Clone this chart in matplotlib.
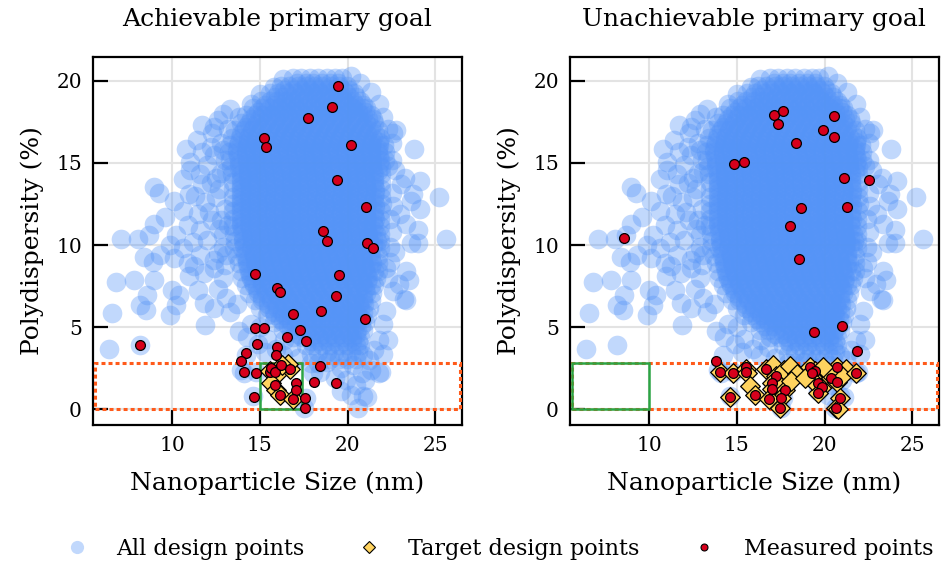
import matplotlib
matplotlib.use("Agg")
import matplotlib.pyplot as plt
from matplotlib.patches import Rectangle
from matplotlib.lines import Line2D

# ========== 全局样式 ==========
plt.rcParams['font.family'] = 'serif'
plt.rcParams['font.serif'] = ['DejaVu Serif']

BLUE = '#5594f7'
GOLD = '#ffd35f'
RED = '#d6001c'
GREEN = '#2ca444'
ORANGE = '#ff5a1a'

XLIM = (5.5, 26.5)
YLIM = (-0.95, 21.45)
# 目标区域 (橙色虚线框)
GOAL_X = (5.6, 26.4)
GOAL_Y = (0.0, 2.85)
# 主要目标 (绿色框)
PRIMARY_A_X = (15.0, 17.4)
PRIMARY_B_X = (5.6, 10.0)

# ========== 数据: 全部设计点 (密集核心, 按行) ==========
CORE_Y = [20.15, 19.7, 19.25, 18.8, 18.35, 17.9, 17.45, 17.0, 16.55, 16.1,
          15.65, 15.2, 14.75, 14.3, 13.85, 13.4, 12.95, 12.5, 12.05, 11.6,
          11.15, 10.7, 10.25, 9.8, 9.35, 8.9, 8.45, 8.0, 7.55, 7.1,
          6.65, 6.2, 5.75, 5.3, 4.85, 4.4, 3.95, 3.5, 3.05]
CORE_X = [
    [16.9, 17.35, 17.85, 18.3, 18.8, 19.3, 19.65],
    [16.2, 16.65, 17.15, 17.6, 18.1, 18.55, 19.05, 19.5, 19.95],
    [15.6, 16.05, 16.55, 17.0, 17.5, 18.0, 18.45, 18.95, 19.4, 19.9, 20.35],
    [15.05, 15.55, 16.0, 16.5, 16.95, 17.45, 17.9, 18.4, 18.85, 19.35, 19.8, 20.3, 20.7],
    [14.6, 15.1, 15.55, 16.05, 16.5, 17.0, 17.45, 17.95, 18.4, 18.9, 19.35, 19.85, 20.3, 20.8, 21.05],
    [14.2, 14.7, 15.15, 15.65, 16.1, 16.6, 17.05, 17.55, 18.0, 18.5, 18.95, 19.45, 19.9, 20.4, 20.85, 21.3],
    [13.9, 14.4, 14.85, 15.35, 15.8, 16.3, 16.75, 17.25, 17.7, 18.2, 18.65, 19.15, 19.6, 20.1, 20.55, 21.05, 21.5],
    [13.6, 14.1, 14.55, 15.05, 15.5, 16.0, 16.45, 16.95, 17.4, 17.9, 18.35, 18.85, 19.3, 19.8, 20.25, 20.75, 21.2, 21.7],
    [13.4, 13.85, 14.35, 14.8, 15.3, 15.75, 16.25, 16.7, 17.2, 17.65, 18.15, 18.6, 19.1, 19.55, 20.05, 20.5, 21.0, 21.45, 21.85],
    [13.3, 13.75, 14.25, 14.7, 15.2, 15.65, 16.15, 16.6, 17.1, 17.55, 18.05, 18.5, 19.0, 19.45, 19.95, 20.4, 20.9, 21.35, 21.8, 22.05],
    [13.25, 13.7, 14.2, 14.65, 15.15, 15.6, 16.1, 16.55, 17.05, 17.5, 18.0, 18.45, 18.95, 19.4, 19.9, 20.35, 20.85, 21.3, 21.75, 22.1],
    [13.3, 13.8, 14.25, 14.75, 15.2, 15.7, 16.15, 16.65, 17.1, 17.6, 18.05, 18.55, 19.0, 19.5, 19.95, 20.45, 20.9, 21.4, 21.85, 22.1],
    [13.35, 13.8, 14.3, 14.75, 15.25, 15.7, 16.2, 16.65, 17.15, 17.6, 18.1, 18.55, 19.05, 19.5, 20.0, 20.45, 20.95, 21.4, 21.9],
    [13.4, 13.9, 14.35, 14.85, 15.3, 15.8, 16.25, 16.75, 17.2, 17.7, 18.15, 18.65, 19.1, 19.6, 20.05, 20.55, 21.0, 21.5, 21.9],
    [13.45, 13.9, 14.4, 14.85, 15.35, 15.8, 16.3, 16.75, 17.25, 17.7, 18.2, 18.65, 19.15, 19.6, 20.1, 20.55, 21.05, 21.5, 21.9],
    [13.5, 13.95, 14.45, 14.9, 15.4, 15.85, 16.35, 16.8, 17.3, 17.75, 18.25, 18.7, 19.2, 19.65, 20.15, 20.6, 21.1, 21.55, 21.9],
    [13.45, 13.9, 14.4, 14.85, 15.35, 15.8, 16.3, 16.75, 17.25, 17.7, 18.2, 18.65, 19.15, 19.6, 20.1, 20.55, 21.05, 21.5, 21.9],
    [13.5, 13.95, 14.45, 14.9, 15.4, 15.85, 16.35, 16.8, 17.3, 17.75, 18.25, 18.7, 19.2, 19.65, 20.15, 20.6, 21.1, 21.55, 21.95],
    [13.45, 13.9, 14.4, 14.85, 15.35, 15.8, 16.3, 16.75, 17.25, 17.7, 18.2, 18.65, 19.15, 19.6, 20.1, 20.55, 21.05, 21.5, 21.9],
    [13.5, 13.95, 14.45, 14.9, 15.4, 15.85, 16.35, 16.8, 17.3, 17.75, 18.25, 18.7, 19.2, 19.65, 20.15, 20.6, 21.1, 21.55, 21.85],
    [13.45, 13.9, 14.4, 14.85, 15.35, 15.8, 16.3, 16.75, 17.25, 17.7, 18.2, 18.65, 19.15, 19.6, 20.1, 20.55, 21.05, 21.5, 21.85],
    [13.55, 14.0, 14.5, 14.95, 15.45, 15.9, 16.4, 16.85, 17.35, 17.8, 18.3, 18.75, 19.25, 19.7, 20.2, 20.65, 21.15, 21.6, 21.85],
    [13.6, 14.05, 14.55, 15.0, 15.5, 15.95, 16.45, 16.9, 17.4, 17.85, 18.35, 18.8, 19.3, 19.75, 20.25, 20.7, 21.2, 21.65, 21.85],
    [13.55, 14.0, 14.5, 14.95, 15.45, 15.9, 16.4, 16.85, 17.35, 17.8, 18.3, 18.75, 19.25, 19.7, 20.2, 20.65, 21.15, 21.6, 21.85],
    [13.7, 14.15, 14.65, 15.1, 15.6, 16.05, 16.55, 17.0, 17.5, 17.95, 18.45, 18.9, 19.4, 19.85, 20.35, 20.8, 21.3, 21.75],
    [13.8, 14.25, 14.75, 15.2, 15.7, 16.15, 16.65, 17.1, 17.6, 18.05, 18.55, 19.0, 19.5, 19.95, 20.45, 20.9, 21.4, 21.7],
    [13.9, 14.4, 14.85, 15.35, 15.8, 16.3, 16.75, 17.25, 17.7, 18.2, 18.65, 19.15, 19.6, 20.1, 20.55, 21.05, 21.5, 21.7],
    [14.0, 14.5, 14.95, 15.45, 15.9, 16.4, 16.85, 17.35, 17.8, 18.3, 18.75, 19.25, 19.7, 20.2, 20.65, 21.15, 21.6],
    [14.2, 14.65, 15.15, 15.6, 16.1, 16.55, 17.05, 17.5, 18.0, 18.45, 18.95, 19.4, 19.9, 20.35, 20.85, 21.3, 21.5],
    [14.4, 14.9, 15.35, 15.85, 16.3, 16.8, 17.25, 17.75, 18.2, 18.7, 19.15, 19.65, 20.1, 20.6, 21.05, 21.4],
    [14.7, 15.15, 15.65, 16.1, 16.6, 17.05, 17.55, 18.0, 18.5, 18.95, 19.45, 19.9, 20.4, 20.85, 21.3],
    [15.0, 15.5, 15.95, 16.45, 16.9, 17.4, 17.85, 18.35, 18.8, 19.3, 19.75, 20.25, 20.7, 21.2],
    [15.4, 15.85, 16.35, 16.8, 17.3, 17.75, 18.25, 18.7, 19.2, 19.65, 20.15, 20.6, 21.1],
    [15.8, 16.3, 16.75, 17.25, 17.7, 18.2, 18.65, 19.15, 19.6, 20.1, 20.55, 21.0],
    [16.3, 16.75, 17.25, 17.7, 18.2, 18.65, 19.15, 19.6, 20.1, 20.55, 20.9],
    [16.9, 17.4, 17.85, 18.35, 18.8, 19.3, 19.75, 20.25, 20.7],
    [17.6, 18.05, 18.55, 19.0, 19.5, 19.95, 20.45, 20.7],
    [18.3, 18.8, 19.25, 19.75, 20.2, 20.6],
    [19.0, 19.5, 19.95, 20.45],
]
# 核心区第二层 (错位行, 让核心更实)
CORE2_Y = [19.9, 19.45, 19.0, 18.55, 18.1, 17.65, 17.2, 16.75, 16.3, 15.85,
           15.4, 14.95, 14.5, 14.05, 13.6, 13.15, 12.7, 12.25, 11.8, 11.35,
           10.9, 10.45, 10.0, 9.55, 9.1, 8.65, 8.2, 7.75, 7.3, 6.85,
           6.4, 5.95, 5.5, 5.05, 4.6, 4.15]
CORE2_X = [
    [17.1, 17.6, 18.05, 18.55, 19.0, 19.45],
    [16.4, 16.9, 17.4, 17.85, 18.3, 18.8, 19.3, 19.75, 20.1],
    [15.85, 16.3, 16.8, 17.25, 17.75, 18.2, 18.7, 19.15, 19.65, 20.1, 20.5],
    [15.3, 15.8, 16.25, 16.75, 17.2, 17.7, 18.15, 18.65, 19.1, 19.6, 20.05, 20.5, 20.85],
    [14.9, 15.35, 15.85, 16.3, 16.8, 17.25, 17.75, 18.2, 18.7, 19.15, 19.65, 20.1, 20.6, 21.0],
    [14.5, 14.95, 15.45, 15.9, 16.4, 16.85, 17.35, 17.8, 18.3, 18.75, 19.25, 19.7, 20.2, 20.65, 21.15, 21.45],
    [14.2, 14.65, 15.15, 15.6, 16.1, 16.55, 17.05, 17.5, 18.0, 18.45, 18.95, 19.4, 19.9, 20.35, 20.85, 21.3],
    [13.95, 14.45, 14.9, 15.4, 15.85, 16.35, 16.8, 17.3, 17.75, 18.25, 18.7, 19.2, 19.65, 20.15, 20.6, 21.1, 21.55],
    [13.8, 14.3, 14.75, 15.25, 15.7, 16.2, 16.65, 17.15, 17.6, 18.1, 18.55, 19.05, 19.5, 20.0, 20.45, 20.95, 21.4, 21.8],
    [13.7, 14.2, 14.65, 15.15, 15.6, 16.1, 16.55, 17.05, 17.5, 18.0, 18.45, 18.95, 19.4, 19.9, 20.35, 20.85, 21.3, 21.75],
    [13.75, 14.2, 14.7, 15.15, 15.65, 16.1, 16.6, 17.05, 17.55, 18.0, 18.5, 18.95, 19.45, 19.9, 20.4, 20.85, 21.35, 21.8],
    [13.8, 14.25, 14.75, 15.2, 15.7, 16.15, 16.65, 17.1, 17.6, 18.05, 18.55, 19.0, 19.5, 19.95, 20.45, 20.9, 21.4, 21.8],
    [13.85, 14.3, 14.8, 15.25, 15.75, 16.2, 16.7, 17.15, 17.65, 18.1, 18.6, 19.05, 19.55, 20.0, 20.5, 20.95, 21.45, 21.75],
    [13.9, 14.35, 14.85, 15.3, 15.8, 16.25, 16.75, 17.2, 17.7, 18.15, 18.65, 19.1, 19.6, 20.05, 20.55, 21.0, 21.5],
    [13.9, 14.4, 14.85, 15.35, 15.8, 16.3, 16.75, 17.25, 17.7, 18.2, 18.65, 19.15, 19.6, 20.1, 20.55, 21.05, 21.5],
    [13.95, 14.4, 14.9, 15.35, 15.85, 16.3, 16.8, 17.25, 17.75, 18.2, 18.7, 19.15, 19.65, 20.1, 20.6, 21.05, 21.55],
    [13.9, 14.4, 14.85, 15.35, 15.8, 16.3, 16.75, 17.25, 17.7, 18.2, 18.65, 19.15, 19.6, 20.1, 20.55, 21.05, 21.5],
    [13.95, 14.4, 14.9, 15.35, 15.85, 16.3, 16.8, 17.25, 17.75, 18.2, 18.7, 19.15, 19.65, 20.1, 20.6, 21.05, 21.55],
    [13.9, 14.4, 14.85, 15.35, 15.8, 16.3, 16.75, 17.25, 17.7, 18.2, 18.65, 19.15, 19.6, 20.1, 20.55, 21.05, 21.5],
    [13.95, 14.4, 14.9, 15.35, 15.85, 16.3, 16.8, 17.25, 17.75, 18.2, 18.7, 19.15, 19.65, 20.1, 20.6, 21.05, 21.45],
    [14.0, 14.45, 14.95, 15.4, 15.9, 16.35, 16.85, 17.3, 17.8, 18.25, 18.75, 19.2, 19.7, 20.15, 20.65, 21.1, 21.45],
    [14.05, 14.5, 15.0, 15.45, 15.95, 16.4, 16.9, 17.35, 17.85, 18.3, 18.8, 19.25, 19.75, 20.2, 20.7, 21.15, 21.45],
    [14.1, 14.55, 15.05, 15.5, 16.0, 16.45, 16.95, 17.4, 17.9, 18.35, 18.85, 19.3, 19.8, 20.25, 20.75, 21.2, 21.45],
    [14.15, 14.6, 15.1, 15.55, 16.05, 16.5, 17.0, 17.45, 17.95, 18.4, 18.9, 19.35, 19.85, 20.3, 20.8, 21.25],
    [14.25, 14.7, 15.2, 15.65, 16.15, 16.6, 17.1, 17.55, 18.05, 18.5, 19.0, 19.45, 19.95, 20.4, 20.9, 21.3],
    [14.35, 14.8, 15.3, 15.75, 16.25, 16.7, 17.2, 17.65, 18.15, 18.6, 19.1, 19.55, 20.05, 20.5, 21.0, 21.3],
    [14.45, 14.95, 15.4, 15.9, 16.35, 16.85, 17.3, 17.8, 18.25, 18.75, 19.2, 19.7, 20.15, 20.65, 21.1],
    [14.6, 15.1, 15.55, 16.05, 16.5, 17.0, 17.45, 17.95, 18.4, 18.9, 19.35, 19.85, 20.3, 20.8, 21.1],
    [14.85, 15.3, 15.8, 16.25, 16.75, 17.2, 17.7, 18.15, 18.65, 19.1, 19.6, 20.05, 20.55, 21.0],
    [15.15, 15.6, 16.1, 16.55, 17.05, 17.5, 18.0, 18.45, 18.95, 19.4, 19.9, 20.35, 20.85],
    [15.45, 15.9, 16.4, 16.85, 17.35, 17.8, 18.3, 18.75, 19.25, 19.7, 20.2, 20.65, 20.95],
    [15.8, 16.25, 16.75, 17.2, 17.7, 18.15, 18.65, 19.1, 19.6, 20.05, 20.55, 20.85],
    [16.15, 16.6, 17.1, 17.55, 18.05, 18.5, 19.0, 19.45, 19.95, 20.4, 20.8],
    [16.6, 17.05, 17.55, 18.0, 18.5, 18.95, 19.45, 19.9, 20.4, 20.75],
    [17.2, 17.65, 18.15, 18.6, 19.1, 19.55, 20.05, 20.5],
    [17.9, 18.35, 18.85, 19.3, 19.8, 20.25, 20.6],
]

# ========== 数据: 全部设计点 (外围稀疏点) ==========
FRINGE_X = [11.72, 10.78, 11.72, 11.0, 10.6, 8.98, 9.26, 10.1, 10.96, 8.98,
            9.6, 7.1, 8.04, 8.7, 10.6, 12.3, 12.6, 12.9, 13.3, 12.0,
            12.4, 11.6, 12.2, 11.3, 11.9, 12.5, 12.8, 11.5, 12.3, 10.9,
            11.6, 12.7, 10.2, 9.9, 10.6, 11.2, 12.0, 12.9, 11.6, 12.4,
            8.4, 9.3, 8.9, 10.1, 10.9, 6.81, 7.85, 6.6, 9.0, 8.6,
            8.15, 8.5, 10.0, 10.2, 9.9, 10.4, 11.9, 11.8, 11.5, 10.96,
            11.25, 11.8, 12.4, 12.9, 12.6, 13.1, 13.3, 13.7, 12.4, 6.43,
            8.15, 14.27, 13.9, 14.6, 13.8, 14.5, 15.0, 14.9, 15.4, 15.9,
            15.3, 14.2, 14.8, 14.1, 16.3, 16.8, 16.4,
            23.8, 22.76, 22.3, 23.24, 24.1, 25.2, 23.7, 24.1, 23.05, 23.6,
            25.6, 23.0, 23.3, 24.0, 23.6, 24.0, 23.3, 23.5, 23.2, 22.2,
            21.8, 22.0, 21.8, 20.9, 20.6, 17.5, 22.9, 23.33, 22.3, 21.9,
            21.5, 21.1, 22.5, 22.7, 22.6, 22.5, 22.7, 22.4, 22.3, 22.6,
            22.0, 22.5, 22.0, 21.8, 21.3, 20.7, 20.2, 16.3, 15.8, 15.0,
            14.5, 13.8,
            18.8, 19.6, 20.3, 20.8, 19.9, 20.5, 19.6, 20.2, 18.4, 17.9,
            21.2, 20.9, 17.9, 17.2, 17.6, 18.0, 19.3, 21.0, 21.3, 18.3,
            12.8, 13.0, 12.7, 13.0, 12.8, 12.9, 12.6, 13.0, 12.2, 12.5,
            11.4, 11.0, 12.1, 11.7, 22.4, 22.5, 22.4, 22.3, 22.2, 22.6,
            13.2, 13.1, 12.9, 13.2, 12.4, 13.1]
FRINGE_Y = [17.3, 15.86, 15.66, 15.05, 14.0, 13.53, 13.2, 12.7, 13.1, 11.3,
            11.7, 10.4, 10.4, 10.6, 12.1, 16.8, 17.6, 18.0, 18.3, 14.9,
            15.5, 14.3, 13.8, 13.0, 12.6, 12.9, 14.4, 11.9, 11.5, 11.2,
            10.9, 11.0, 10.6, 10.0, 9.8, 10.2, 10.3, 9.9, 9.4, 9.1,
            9.3, 9.4, 9.0, 9.2, 8.9, 7.77, 7.85, 5.84, 7.85, 6.95,
            6.35, 6.05, 7.25, 6.35, 5.75, 6.95, 5.13, 6.45, 7.25, 8.1,
            8.7, 8.3, 8.6, 8.0, 7.3, 6.8, 5.9, 6.4, 6.2, 3.7,
            3.9, 4.4, 2.4, 0.8, 4.8, 5.2, 5.0, 4.0, 4.3, 3.7,
            3.5, 3.3, 2.3, 2.2, 3.3, 3.8, 4.2,
            15.86, 16.98, 17.1, 14.1, 13.9, 12.9, 13.1, 12.2, 13.7, 12.7,
            10.4, 11.9, 11.3, 10.9, 10.1, 10.1, 8.4, 7.9, 6.75, 6.0,
            4.2, 3.4, 2.2, 0.8, 0.1, 0.1, 7.66, 6.65, 4.2, 2.3,
            3.6, 0.77, 15.2, 14.6, 12.4, 10.8, 9.6, 9.0, 8.0, 7.2,
            5.2, 16.2, 17.8, 18.6, 19.3, 19.9, 20.3, 20.1, 19.6, 19.2,
            18.6, 17.8,
            2.9, 2.5, 2.7, 2.2, 1.8, 1.5, 1.1, 0.9, 2.3, 2.8,
            3.0, 3.3, 3.4, 3.1, 0.7, 2.2, 1.9, 1.8, 2.4, 2.8,
            16.2, 15.2, 13.4, 12.2, 11.5, 10.6, 9.5, 8.8, 16.0, 14.1,
            16.4, 14.6, 12.0, 13.7, 11.6, 13.2, 9.9, 14.8, 8.6, 16.8,
            17.1, 14.5, 15.8, 11.2, 17.2, 9.4]

# ========== 数据: 可达主要目标 (左图) ==========
TARGET_A_X = [15.55, 15.95, 16.72, 16.62, 16.25, 15.66, 15.93, 16.15, 16.88]
TARGET_A_Y = [2.32, 2.15, 2.47, 2.78, 2.68, 1.62, 1.17, 0.85, 0.63]
MEAS_A_X = [19.43, 19.09, 17.75, 15.21, 15.36, 20.17, 19.38, 21.02, 18.57, 18.81,
            21.08, 21.42, 14.72, 19.53, 15.96, 16.17, 19.36, 16.91, 18.47, 20.98,
            14.75, 15.25, 17.30, 16.55, 17.62, 8.17, 14.85, 15.98, 14.23, 15.94,
            13.90, 18.40, 14.09, 14.79, 15.57, 15.61, 15.88, 16.22, 16.74, 15.84,
            17.07, 18.10, 19.31, 17.08, 16.13, 14.68, 16.88, 17.58, 17.56]
MEAS_A_Y = [19.68, 18.38, 17.73, 16.53, 15.98, 16.10, 13.96, 12.33, 10.87, 10.24,
            10.16, 9.82, 8.22, 8.17, 7.42, 7.14, 6.92, 5.80, 5.98, 5.48,
            4.97, 4.93, 4.81, 4.42, 4.14, 3.94, 3.96, 3.81, 3.45, 3.31,
            2.94, 2.63, 2.25, 2.19, 2.30, 2.54, 2.25, 2.70, 2.46, 1.48,
            1.60, 1.66, 1.60, 1.20, 0.87, 0.77, 0.62, 0.70, 0.11]

# ========== 数据: 不可达主要目标 (右图) ==========
TARGET_B_X = [14.02, 14.77, 15.5, 15.6, 15.75, 16.06, 14.62, 16.66, 17.05, 17.23,
              16.98, 16.98, 17.35, 17.74, 17.51, 16.81, 17.47, 17.7, 18.0, 18.45,
              18.1, 19.15, 19.45, 19.26, 19.64, 19.83, 19.64, 19.3, 20.38, 20.68,
              20.68, 21.2, 20.85, 20.62, 20.75, 21.0, 21.81, 20.2, 19.9, 18.9]
TARGET_B_Y = [2.25, 2.19, 2.45, 2.2, 1.45, 0.87, 0.77, 2.45, 2.7, 2.03,
              1.58, 1.22, 1.55, 1.18, 0.71, 0.63, 0.10, 2.4, 2.65, 2.15,
              1.75, 2.56, 2.33, 2.19, 1.62, 1.38, 1.01, 1.8, 1.89, 1.68,
              2.56, 2.45, 0.71, 0.10, 0.0, 2.05, 2.19, 2.3, 2.6, 1.9]
MEAS_B_X = [17.13, 17.60, 17.36, 20.51, 19.91, 20.51, 18.38, 14.83, 15.38, 21.09,
            22.51, 18.66, 21.25, 18.04, 8.58, 18.53, 19.40, 21.00, 21.85, 13.83,
            14.02, 14.77, 15.53, 15.53, 16.66, 17.23, 16.98, 16.98, 17.74, 17.51,
            16.81, 16.06, 14.62, 17.47, 19.15, 19.45, 19.26, 19.64, 19.83, 19.64,
            20.38, 20.68, 20.68, 20.85, 20.62, 21.81]
MEAS_B_Y = [17.93, 18.15, 17.40, 17.87, 17.00, 16.59, 16.19, 14.93, 15.07, 14.06,
            13.96, 12.25, 12.35, 11.16, 10.41, 9.17, 4.73, 5.07, 3.57, 2.96,
            2.25, 2.19, 2.60, 2.29, 2.45, 2.03, 1.58, 1.22, 1.18, 0.71,
            0.63, 0.87, 0.77, 0.10, 2.56, 2.33, 2.19, 1.62, 1.38, 1.01,
            1.89, 1.68, 2.56, 0.71, 0.10, 2.19]

TITLES = ["Achievable primary goal", "Unachievable primary goal"]


def design_points():
    """拼接核心行和外围点"""
    xs, ys = [], []
    for rows_y, rows_x in ((CORE_Y, CORE_X), (CORE2_Y, CORE2_X)):
        for y, row in zip(rows_y, rows_x):
            xs.extend(row)
            ys.extend([y] * len(row))
    xs.extend(FRINGE_X)
    ys.extend(FRINGE_Y)
    return xs, ys


def draw_panel(ax, title, primary_x, tx, ty, mx, my):
    dx, dy = design_points()
    ax.scatter(dx, dy, s=200, color=BLUE, alpha=0.36, linewidths=0, zorder=2)

    # 目标区域
    ax.add_patch(Rectangle((GOAL_X[0], GOAL_Y[0]), GOAL_X[1] - GOAL_X[0], GOAL_Y[1] - GOAL_Y[0],
                           fill=False, edgecolor=ORANGE, linestyle=(0, (1.3, 1.0)),
                           linewidth=2.2, zorder=3))
    ax.add_patch(Rectangle((primary_x[0], GOAL_Y[0]), primary_x[1] - primary_x[0], GOAL_Y[1] - GOAL_Y[0],
                           fill=False, edgecolor=GREEN, linewidth=1.8, zorder=3.5))

    ax.scatter(tx, ty, s=100, marker='D', color=GOLD, edgecolors='black', linewidths=0.9, zorder=4)
    ax.scatter(mx, my, s=50, color=RED, edgecolors='black', linewidths=0.9, zorder=5)

    ax.set_xlim(*XLIM)
    ax.set_ylim(*YLIM)
    ax.set_xticks([10, 15, 20, 25])
    ax.set_yticks([0, 5, 10, 15, 20])
    ax.set_title(title, fontsize=18, pad=22)
    ax.set_xlabel("Nanoparticle Size (nm)", fontsize=18, labelpad=12)
    ax.set_ylabel("Polydispersity (%)", fontsize=18, labelpad=9)
    ax.grid(True, color='#e3e3e3', linewidth=1.5)
    ax.set_axisbelow(True)
    ax.tick_params(direction='in', length=11, width=1.6, labelsize=14.5, pad=8)
    for sp in ax.spines.values():
        sp.set_linewidth(1.6)


# ========== 主程序 ==========
fig = plt.figure(figsize=(9.41, 5.67), dpi=100)
ax1 = fig.add_axes([0.0988, 0.2504, 0.392, 0.649])
ax2 = fig.add_axes([0.6057, 0.2504, 0.392, 0.649])

draw_panel(ax1, TITLES[0], PRIMARY_A_X, TARGET_A_X, TARGET_A_Y, MEAS_A_X, MEAS_A_Y)
draw_panel(ax2, TITLES[1], PRIMARY_B_X, TARGET_B_X, TARGET_B_Y, MEAS_B_X, MEAS_B_Y)

handles = [
    Line2D([], [], linestyle='none', marker='o', markersize=9.5, color=BLUE, alpha=0.36,
           markeredgewidth=0),
    Line2D([], [], linestyle='none', marker='D', markersize=6.6, markerfacecolor=GOLD,
           markeredgecolor='black', markeredgewidth=0.8),
    Line2D([], [], linestyle='none', marker='o', markersize=5, markerfacecolor=RED,
           markeredgecolor='black', markeredgewidth=0.8),
]
fig.legend(handles, ["All design points", "Target design points", "Measured points"],
           loc='center', bbox_to_anchor=(0.525, 0.032), ncol=3, frameon=False,
           fontsize=16, handletextpad=0.77, columnspacing=1.9)

fig.savefig("out.png", dpi=100)
